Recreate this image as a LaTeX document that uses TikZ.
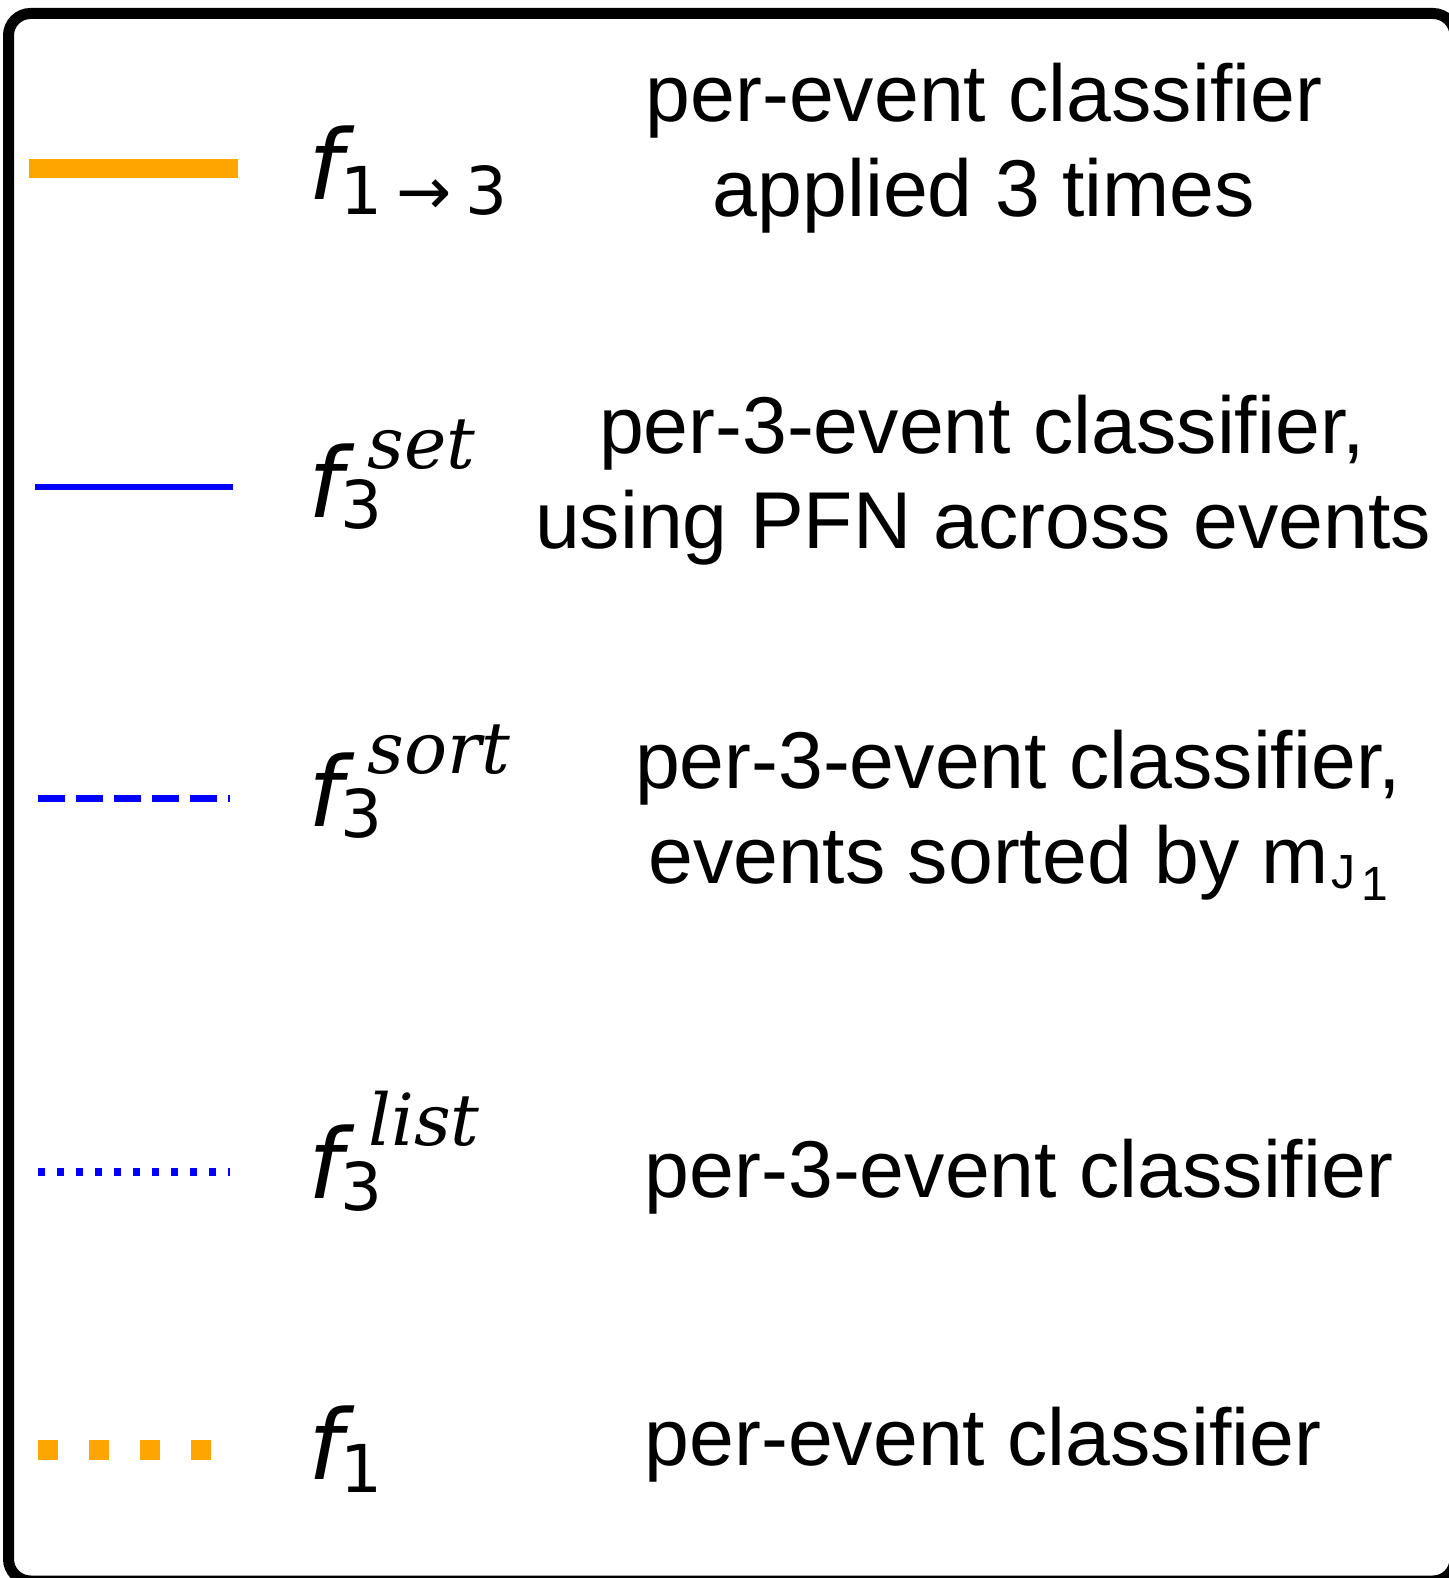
\documentclass[tikz,border=0pt]{standalone}
\usepackage{fontspec}
\setmainfont{Liberation Sans}
\newfontfamily\dvsans{DejaVu Sans}
\newfontfamily\dvserif{DejaVu Serif}
\definecolor{legorange}{HTML}{FFA500}
\definecolor{legblue}{HTML}{0000FF}
\begin{document}
\begin{tikzpicture}[x=0.5pt,y=-0.5pt,
  txt/.style={font=\fontsize{40.3}{48}\selectfont, anchor=base, inner sep=0pt},
  fsym/.style={font=\dvsans\itshape\fontsize{48.5}{50}\selectfont, anchor=base west, inner sep=0pt},
  subsym/.style={font=\dvsans\fontsize{33}{35}\selectfont, anchor=base west, inner sep=0pt},
  supsym/.style={font=\dvserif\itshape\fontsize{35.8}{38}\selectfont, anchor=base west, inner sep=0pt},
  frame/.style={line width=5.5pt, rounded corners=11pt},
  orangesolid/.style={legorange, line width=9.5pt},
  bluesolid/.style={legblue, line width=3pt},
  bluedash/.style={legblue, line width=3.5pt, dash pattern=on 13.5pt off 5.5pt},
  bluedot/.style={legblue, line width=3.8pt, dash pattern=on 3.5pt off 6pt},
  orangedot/.style={legorange, line width=10pt, dash pattern=on 10pt off 15.5pt}]
\useasboundingbox (0,0) rectangle (1448,1578);
\draw[frame] (8.5,13.5) rectangle (1455,1581);

% legend lines
\coordinate (a1) at (29,169);   \coordinate (b1) at (238,169);
\coordinate (a2) at (35,487);   \coordinate (b2) at (233,487);
\coordinate (a3) at (38,798);   \coordinate (b3) at (230,798);
\coordinate (a4) at (38,1172);  \coordinate (b4) at (230,1172);
\coordinate (a5) at (38,1450);  \coordinate (b5) at (211,1450);
\draw[orangesolid] (a1) -- (b1);
\draw[bluesolid] (a2) -- (b2);
\draw[bluedash] (a3) -- (b3);
\draw[bluedot] (a4) -- (b4);
\draw[orangedot] (a5) -- (b5);

% symbols
\node[fsym] (f1) at (308,199) {f};
\node[subsym] (s1) at (340,215) {1\kern7pt→\kern7pt3};

\node[fsym] (f2) at (308,517) {f};
\node[subsym] (s2) at (340,528) {3};
\node[supsym] (p2) at (367,468) {set};

\node[fsym] (f3) at (308,826) {f};
\node[subsym] (s3) at (340,837) {3};
\node[supsym] (p3) at (367,773) {sort};

\node[fsym] (f4) at (308,1198) {f};
\node[subsym] (s4) at (340,1210) {3};
\node[supsym] (p4) at (368,1145) {list};

\node[fsym] (f5) at (308,1479) {f};
\node[subsym] (s5) at (340,1492) {1};

% descriptions
\node[txt] (t1a) at (984,122) {per-event classifier};
\node[txt] (t1b) at (984,217) {applied 3 times};
\node[txt] (t2a) at (982,453) {per-3-event classifier,};
\node[txt] (t2b) at (983,548) {using PFN across events};
\node[txt] (t3a) at (1018,788) {per-3-event classifier,};
\node[txt] (t3b) at (1018,883) {events sorted by m\kern1pt\raisebox{-2.5pt}{\fontsize{24}{26}\selectfont J}\kern3pt\raisebox{-8.5pt}{\fontsize{24}{26}\selectfont 1}};
\node[txt] (t4) at (1019,1197) {per-3-event classifier};
\node[txt] (t5) at (983,1465) {per-event classifier};
\end{tikzpicture}
\end{document}
